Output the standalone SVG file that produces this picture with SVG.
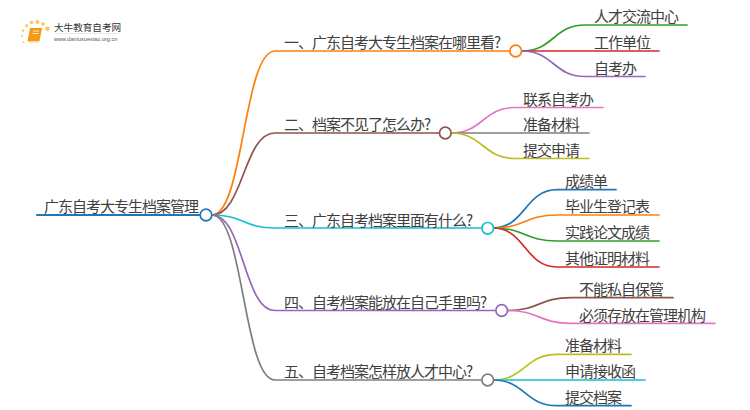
<svg xmlns="http://www.w3.org/2000/svg" width="750" height="410" viewBox="0 0 750 410">
<style>
text{font-family:"Noto Sans CJK SC","Noto Sans",sans-serif;font-size:15px;letter-spacing:-1px;fill:#404040}
.l{fill:none;stroke-width:1.700;stroke-linecap:round}
.c{fill:#fff;stroke-width:1.700}
.b{stroke:#1f77b4}.o{stroke:#ff7f0e}.g{stroke:#2ca02c}.r{stroke:#d62728}.p{stroke:#9467bd}.n{stroke:#8c564b}.k{stroke:#e377c2}.y{stroke:#7f7f7f}.v{stroke:#bcbd22}.t{stroke:#17becf}
.d{fill:#fbc75a}
</style>
<rect width="750" height="410" fill="#fff"/>
<g id="logo">
<circle class="d" cx="47.500" cy="28.700" r="2.200"/><circle class="d" cx="43" cy="24" r="1.800"/><circle class="d" cx="37.500" cy="22" r="1.900"/><circle class="d" cx="31.500" cy="22.500" r="1.800"/><circle class="d" cx="26.500" cy="25.500" r="1.500"/><circle class="d" cx="23" cy="30.500" r="1.300"/><circle class="d" cx="22" cy="36" r="1.100"/><circle class="d" cx="23.500" cy="42" r="1"/>
<path d="M30 28H42L39.500 41H27.500Z" fill="#f59a14"/><path d="M27.500 41H39.500L39 42.500H28Z" fill="#fcd9a0"/>
<path d="M33 31H39M32.500 33.500H38.500" stroke="#fff" stroke-width="0.800" fill="none"/>
<text x="54" y="31" style="font-size:9.600px;letter-spacing:0;fill:#333">大牛教育自考网</text>
<path d="M54 33.500H121" stroke="#ddd" stroke-width="0.600"/>
<text x="54" y="41" style="font-size:5.600px;letter-spacing:0;font-family:'Liberation Sans',sans-serif;fill:#555">www.daniuxuexiao.org.cn</text>
</g>
<g id="connectors">
<path class="l b" style="stroke-width:2.200" d="M37 215H200"/>
<path class="l o" d="M212 215C243.500 215 243.500 51 275 51H509"/>
<path class="l n" d="M212 215C243.500 215 243.500 133 275 133H439"/>
<path class="l t" d="M212 215C243.500 215 243.500 228 275 228H481"/>
<path class="l p" d="M212 215C243.500 215 243.500 310.500 275 310.500H495"/>
<path class="l y" d="M212 215C243.500 215 243.500 380 275 380H481"/>
<path class="l g" d="M522 51C553.500 51 553.500 25 585 25H687"/>
<path class="l r" d="M522 51H659"/>
<path class="l p" d="M522 51C553.500 51 553.500 76.500 585 76.500H645"/>
<path class="l k" d="M451 133C483 133 483 107.500 515 107.500H603"/>
<path class="l y" d="M451 133H589"/>
<path class="l v" d="M451 133C483 133 483 158.500 515 158.500H589"/>
<path class="l b" d="M493 228C525 228 525 189.700 557 189.700H616"/>
<path class="l o" d="M493 228C525 228 525 215 557 215H659"/>
<path class="l g" d="M493 228C525 228 525 241 557 241H659"/>
<path class="l r" d="M493 228C525 228 525 267 557 267H659"/>
<path class="l n" d="M507 310.500C539 310.500 539 297.700 571 297.700H673"/>
<path class="l k" d="M507 310.500C539 310.500 539 323.300 571 323.300H715"/>
<path class="l v" d="M493 380C525 380 525 354.300 557 354.300H631"/>
<path class="l t" d="M493 380H645"/>
<path class="l b" d="M493 380C525 380 525 405.700 557 405.700H631"/>
</g>
<g id="root"><text x="44" y="212">广东自考大专生档案管理</text><circle class="c b" cx="206" cy="215" r="5.800"/></g>
<g id="n1"><text x="284" y="47.500">一、广东自考大专生档案在哪里看?</text><circle class="c o" cx="515.700" cy="51" r="5.800"/></g>
<g id="n11"><text x="594" y="22">人才交流中心</text></g>
<g id="n12"><text x="594" y="48">工作单位</text></g>
<g id="n13"><text x="594" y="74">自考办</text></g>
<g id="n2"><text x="284" y="129.500">二、档案不见了怎么办?</text><circle class="c n" cx="445.300" cy="133" r="5.800"/></g>
<g id="n21"><text x="523" y="105">联系自考办</text></g>
<g id="n22"><text x="523" y="130">准备材料</text></g>
<g id="n23"><text x="523" y="156">提交申请</text></g>
<g id="n3"><text x="284" y="225.500">三、广东自考档案里面有什么?</text><circle class="c t" cx="487.700" cy="228.300" r="5.800"/></g>
<g id="n31"><text x="565" y="187">成绩单</text></g>
<g id="n32"><text x="565" y="212">毕业生登记表</text></g>
<g id="n33"><text x="565" y="238">实践论文成绩</text></g>
<g id="n34"><text x="565" y="264">其他证明材料</text></g>
<g id="n4"><text x="284" y="307.500">四、自考档案能放在自己手里吗?</text><circle class="c p" cx="501.700" cy="310.500" r="5.800"/></g>
<g id="n41"><text x="579" y="295">不能私自保管</text></g>
<g id="n42"><text x="579" y="321">必须存放在管理机构</text></g>
<g id="n5"><text x="284" y="377">五、自考档案怎样放人才中心?</text><circle class="c y" cx="487.700" cy="380" r="5.800"/></g>
<g id="n51"><text x="565" y="351">准备材料</text></g>
<g id="n52"><text x="565" y="377">申请接收函</text></g>
<g id="n53"><text x="565" y="403">提交档案</text></g>
</svg>
